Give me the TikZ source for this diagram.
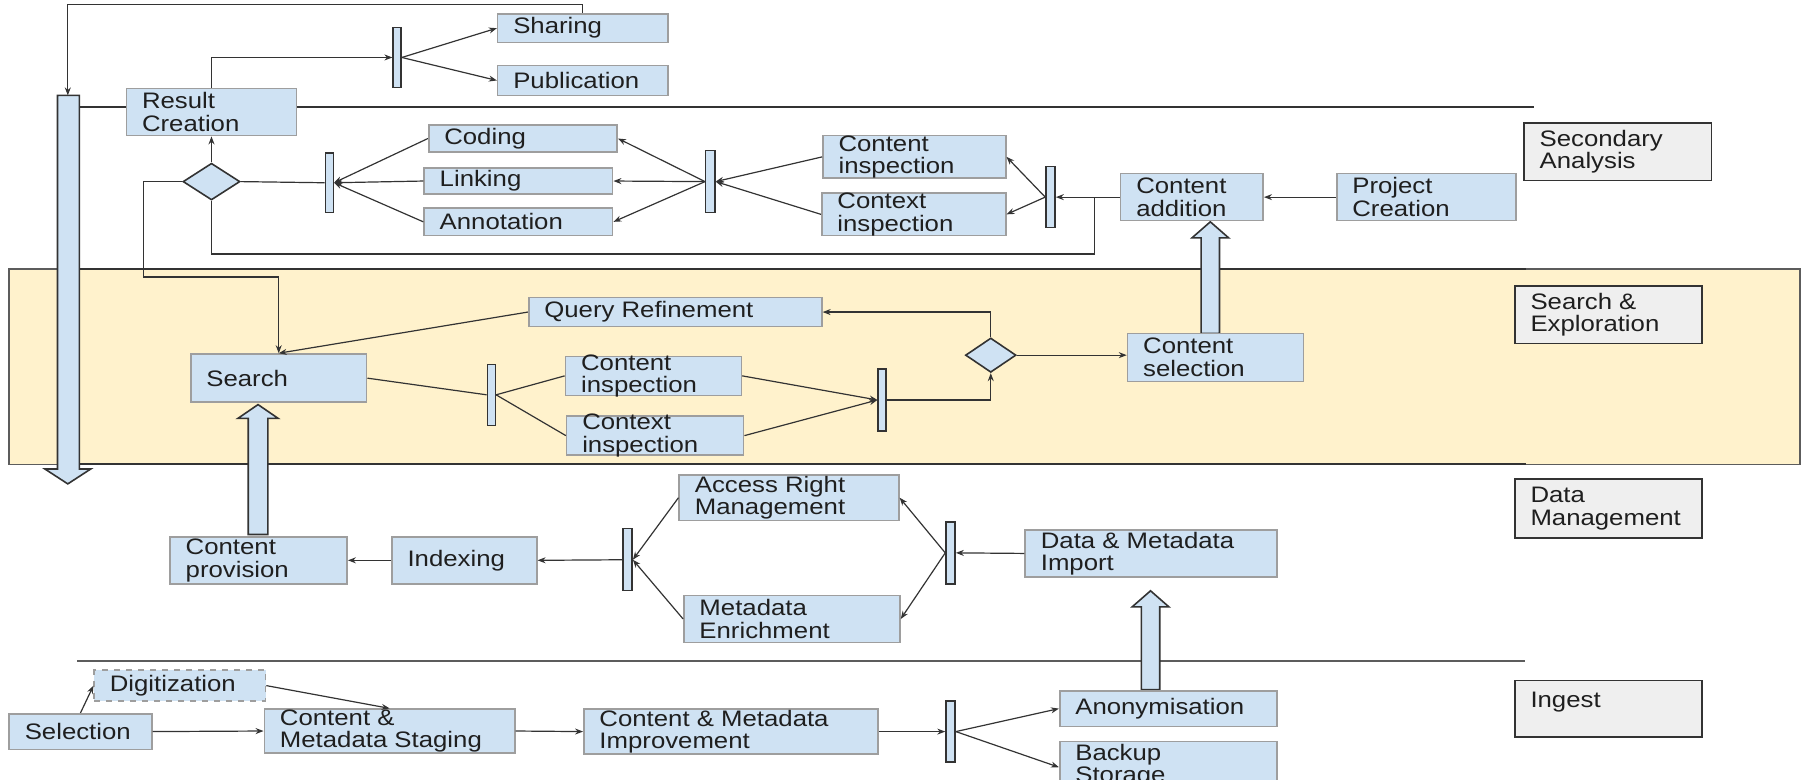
\documentclass[tikz,border=0pt]{standalone}
\usepackage{fontspec}
\setmainfont{Liberation Sans}[FakeStretch=1.15]
\usetikzlibrary{fit,shapes.geometric,arrows.meta}
\definecolor{boxfill}{HTML}{CFE2F3}
\definecolor{boxline}{HTML}{9E9E9E}
\definecolor{dark}{HTML}{333333}
\definecolor{lanefill}{HTML}{FFF2CC}
\definecolor{labfill}{HTML}{EFEFEF}
\tikzset{
 txt/.style={font=\fontsize{11.2}{11.2}\selectfont, align=left, inner sep=0pt, text=black!88},
 box/.style={draw=boxline, fill=boxfill, line width=0.8pt, inner sep=0pt, rectangle},
 dbox/.style={box, dashed},
 labbox/.style={draw=dark, fill=labfill, line width=0.8pt, inner sep=0pt, rectangle},
 bar/.style={draw=dark, fill=boxfill, line width=0.7pt, inner sep=0pt, rectangle},
 dec/.style={diamond, draw=dark, fill=boxfill, line width=0.8pt, inner sep=0pt},
 conn/.style={draw=dark, line width=0.6pt},
 arr/.style={conn, -{Stealth[length=4pt,width=3pt]}},
 blk/.style={draw=dark, fill=boxfill, line width=0.8pt, line join=miter},
 lane/.style={draw=dark, line width=0.9pt},
}
\newcommand\bx[7]{\node[#6, fit={(#2,#3) (#4,#5)}] (#1) {};
  \node[txt, anchor=west] (#1-t) at ([xshift=8pt]#1.west) {#7};}
\newcommand\br[5]{\node[bar, fit={(#2,#3) (#4,#5)}] (#1) {};}
\begin{document}
\begin{tikzpicture}[x=0.5747pt,y=-0.5747pt]
\useasboundingbox (0,0) rectangle (1567.8,678.6);
\clip (0,0) rectangle (1567.8,678.6);
% lanes
\draw[draw=dark!80, fill=lanefill, line width=0.7pt] (8,234) rectangle (1566,404);
\draw[lane] (68,93) -- (1335,93);
\draw[lane] (68,234) -- (1328,234);
\draw[lane] (68,404) -- (1328,404);
\draw[lane, draw=dark!80] (67,575) -- (1327,575);
% block arrows
\coordinate (bigtop) at (59,83);
\draw[blk] (50,83) -- (69,83) -- (69,408) -- (79,408) -- (59,421) -- (39,408) -- (50,408) -- cycle;
\draw[blk] (216,465) -- (233,465) -- (233,364) -- (242,364) -- (224.5,352) -- (207,364) -- (216,364) -- cycle;
\draw[blk] (1045,290) -- (1061,290) -- (1061,207) -- (1069,207) -- (1053,193) -- (1037,207) -- (1045,207) -- cycle;
\draw[blk] (993,600) -- (1009,600) -- (1009,528) -- (1017,528) -- (1001,514) -- (985,528) -- (993,528) -- cycle;
% lane labels
\bx{sa}{1326}{107}{1489}{157}{labbox}{Secondary\\Analysis}
\bx{se}{1318}{249}{1481}{299}{labbox}{Search \&\\Exploration}
\bx{dm}{1318}{417}{1481}{468}{labbox}{Data\\Management}
\node[labbox, fit={(1318,592) (1481,641)}] (ing) {};
\node[txt, anchor=north west] (ing-t) at ([xshift=8pt,yshift=-6pt]ing.north west) {Ingest};
% boxes
\bx{sharing}{433}{12}{581}{37}{box}{Sharing}
\bx{pub}{433}{57}{581}{83}{box}{Publication}
\bx{rc}{110}{77}{258}{118}{box}{Result\\Creation}
\bx{coding}{373}{109}{537}{132}{box}{Coding}
\bx{linking}{369}{146}{533}{169}{box}{Linking}
\bx{annot}{369}{181}{533}{205}{box}{Annotation}
\bx{ci1}{716}{118}{875}{155}{box}{Content\\inspection}
\bx{cx1}{715}{168}{875}{205}{box}{Context\\inspection}
\bx{cadd}{975}{151}{1099}{192}{box}{Content\\addition}
\bx{proj}{1163}{151}{1319}{192}{box}{Project\\Creation}
\bx{qr}{460}{259}{715}{284}{box}{Query Refinement}
\bx{search}{166}{308}{319}{350}{box}{Search}
\bx{ci2}{492}{310}{645}{344}{box}{Content\\inspection}
\bx{cx2}{493}{362}{647}{396}{box}{Context\\inspection}
\bx{csel}{981}{290}{1134}{332}{box}{Content\\selection}
\bx{arm}{591}{413}{782}{453}{box}{Access Right\\Management}
\bx{dmi}{892}{461}{1111}{502}{box}{Data \& Metadata\\Import}
\bx{cprov}{148}{467}{302}{508}{box}{Content\\provision}
\bx{idx}{341}{467}{467}{508}{box}{Indexing}
\bx{menr}{595}{518}{783}{559}{box}{Metadata\\Enrichment}
\bx{digi}{82}{583}{231}{610}{dbox}{Digitization}
\bx{sel}{8}{621}{132}{652}{box}{Selection}
\bx{stag}{230}{617}{448}{655}{box}{Content \&\\Metadata Staging}
\bx{impr}{508}{617}{764}{656}{box}{Content \& Metadata\\Improvement}
\bx{anon}{922}{601}{1111}{632}{box}{Anonymisation}
\node[box, fit={(922,645) (1111,690)}] (backup) {};
\node[txt, anchor=north west] (backup-t) at ([xshift=8pt,yshift=-1.5pt]backup.north west) {Backup\\Storage};
% bars
\br{bTop}{342}{24}{349}{76}
\br{bSAL}{283}{133}{290}{185}
\br{bSAM}{614}{131}{622}{185}
\br{bSAR}{910}{145}{918}{198}
\br{bSEL}{424}{317}{431}{370}
\br{bSER}{764}{321}{771}{375}
\br{bDML}{542}{460}{550}{514}
\br{bDMR}{823}{454}{831}{508}
\br{bING}{823}{610}{831}{663}
% decisions
\node[dec, minimum width=28.5pt, minimum height=18.4pt] (d1) at (184,158) {};
\node[dec, minimum width=25.3pt, minimum height=17.2pt] (d2) at (862,309) {};
% connectors
\coordinate (t2) at (59,4);
\draw[arr] (sharing.north) |- (t2) -- (bigtop);
\draw[arr] (rc.north) |- (bTop.west);
\draw[arr] (bTop.east) -- (sharing.west);
\draw[arr] (bTop.east) -- (pub.west);
\draw[arr] (d1.north) -- (rc.south);
\draw[conn] (d1.east) -- (bSAL.west);
\draw[arr] (coding.west) -- (bSAL.east);
\draw[arr] (linking.west) -- (bSAL.east);
\draw[arr] (annot.west) -- (bSAL.east);
\draw[arr] (bSAM.west) -- (coding.east);
\draw[arr] (bSAM.west) -- (linking.east);
\draw[arr] (bSAM.west) -- (annot.east);
\draw[arr] (ci1.west) -- (bSAM.east);
\draw[arr] (cx1.west) -- (bSAM.east);
\draw[arr] (bSAR.west) -- (ci1.east);
\draw[arr] (bSAR.west) -- (cx1.east);
\draw[arr] (cadd.west) -- (bSAR.east);
\draw[arr] (proj.west) -- (cadd.east);
\coordinate (j1) at (952,171.5);
\coordinate (lp) at (184,221);
\draw[conn] (j1) |- (lp) -- (d1.south);
\coordinate (l1) at (125,241);
\draw[arr] (d1.west) -| (l1) -| (search.north);
\draw[arr] (qr.west) -- (search.north);
\draw[conn] (search.east) -- (bSEL.west);
\draw[conn] (bSEL.east) -- (ci2.west);
\draw[conn] (bSEL.east) -- (cx2.west);
\draw[arr] (ci2.east) -- (bSER.west);
\draw[arr] (cx2.east) -- (bSER.west);
\draw[arr] (bSER.east) -| (d2.south);
\draw[arr] (d2.north) |- (qr.east);
\draw[arr] (d2.east) -- (d2.east -| csel.west);
\draw[arr] (dmi.west) -- (bDMR.east);
\draw[arr] (bDMR.west) -- (arm.east);
\draw[arr] (bDMR.west) -- (menr.east);
\draw[arr] (arm.west) -- (bDML.east);
\draw[arr] (menr.west) -- (bDML.east);
\draw[arr] (bDML.west) -- (idx.east);
\draw[arr] (idx.west) -- (cprov.east);
\draw[arr] (sel.north) -- (digi.west);
\draw[arr] (sel.east) -- (stag.west);
\draw[arr] (digi.east) -- (stag.north);
\draw[arr] (stag.east) -- (impr.west);
\draw[arr] (impr.east) -- (bING.west);
\draw[arr] (bING.east) -- (anon.west);
\draw[arr] (bING.east) -- (backup.west);
\end{tikzpicture}
\end{document}
